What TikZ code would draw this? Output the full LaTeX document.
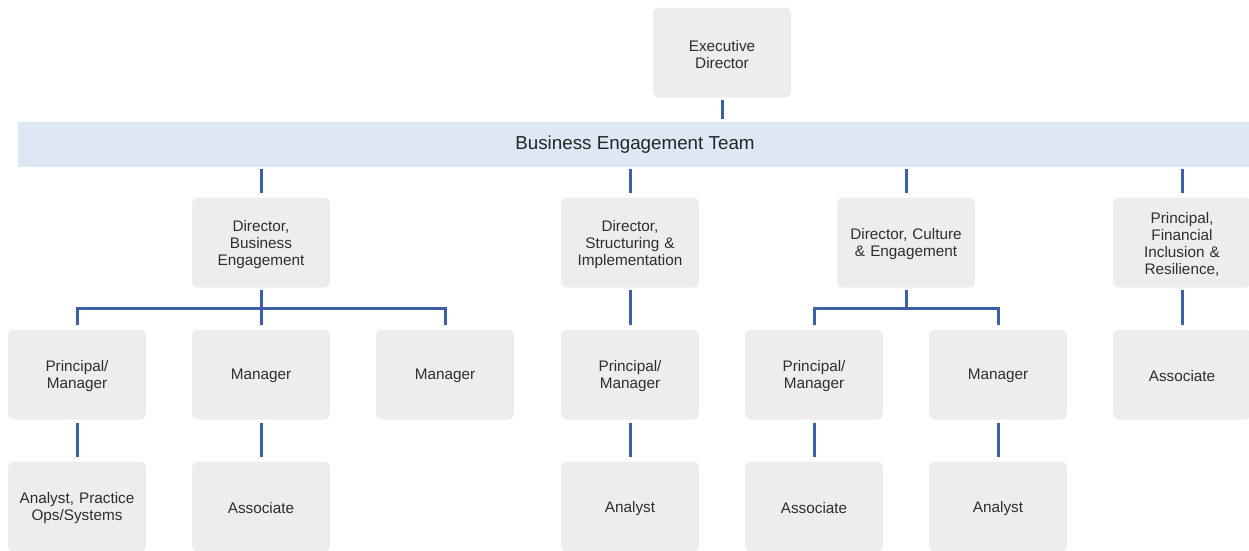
\documentclass[tikz,border=0pt]{standalone}
\usepackage{fontspec}
\setmainfont{Liberation Sans}
\begin{document}
\begin{tikzpicture}[x=1pt,y=-1pt,
  box/.style={fill=boxgray,rounded corners=6pt,minimum width=138pt,minimum height=90pt,inner sep=0pt},
  txt/.style={inner sep=0pt,align=center,text width=134pt,font=\fontsize{15.3}{17.2}\selectfont,text=black!82},
  conn/.style={draw=linkblue,line width=3pt}]
\definecolor{boxgray}{HTML}{EDEDED}
\definecolor{linkblue}{HTML}{3E5FA8}
\definecolor{bandblue}{HTML}{DDE8F4}
\newcommand\orgbox[3]{\node[box] (#1) at (#2) {};
  \node[txt] (#1t) at ([yshift=-1.8pt]#1.center) {#3};}
\useasboundingbox (0,0) rectangle (1249,550);
\clip (0,0) rectangle (1249,550);
% band
\node[fill=bandblue,minimum width=1240pt,minimum height=45pt,inner sep=0pt,anchor=west] (band) at (18,144) {};
\node[font=\fontsize{18.8}{22}\selectfont,text=black!85] (bandtxt) at (635,145) {Business Engagement Team};
% top
\orgbox{exec}{722,52.5}{Executive\\Director}
% level 2
\orgbox{dbe}{261,242.5}{Director,\\Business\\Engagement}
\orgbox{dsi}{630,242.5}{Director,\\Structuring \&\\Implementation}
\orgbox{dce}{906,242.5}{Director, Culture\\\& Engagement}
\orgbox{pfi}{1182,242.5}{Principal,\\Financial\\Inclusion \&\\Resilience,}
% level 3
\orgbox{pm1}{77,374.5}{Principal/\\Manager}
\orgbox{m1}{261,374.5}{Manager}
\orgbox{m2}{445,374.5}{Manager}
\orgbox{pm2}{630,374.5}{Principal/\\Manager}
\orgbox{pm3}{814,374.5}{Principal/\\Manager}
\orgbox{m3}{998,374.5}{Manager}
\orgbox{as1}{1182,374.5}{Associate}
% level 4
\orgbox{an1}{77,506.5}{Analyst, Practice\\Ops/Systems}
\orgbox{as2}{261,506.5}{Associate}
\orgbox{an2}{630,506.5}{Analyst}
\orgbox{as3}{814,506.5}{Associate}
\orgbox{an3}{998,506.5}{Analyst}
% coordinates
\coordinate (bus1) at (261,308);
\coordinate (bus2) at (906,308);
% connectors
\draw[conn] ([yshift=-2pt]exec.south) -- ([yshift=2pt]exec.south |- band.north);
\foreach \n in {dbe,dsi,dce,pfi}
  \draw[conn] ([yshift=-2pt]\n.north |- band.south) -- ([yshift=4pt]\n.north);
\draw[conn] ([yshift=-2pt]dbe.south) -- (bus1);
\draw[conn] ([yshift=4pt]pm1.north) -- (pm1.north |- bus1) -- (m2.north |- bus1) -- ([yshift=4pt]m2.north);
\draw[conn] (bus1) -- ([yshift=4pt]m1.north);
\draw[conn] ([yshift=-2pt]dce.south) -- (bus2);
\draw[conn] ([yshift=4pt]pm3.north) -- (pm3.north |- bus2) -- (m3.north |- bus2) -- ([yshift=4pt]m3.north);
\draw[conn] ([yshift=-2pt]dsi.south) -- ([yshift=4pt]pm2.north);
\draw[conn] ([yshift=-2pt]pfi.south) -- ([yshift=4pt]as1.north);
\draw[conn] ([yshift=-3pt]pm1.south) -- ([yshift=4pt]an1.north);
\draw[conn] ([yshift=-3pt]m1.south) -- ([yshift=4pt]as2.north);
\draw[conn] ([yshift=-3pt]pm2.south) -- ([yshift=4pt]an2.north);
\draw[conn] ([yshift=-3pt]pm3.south) -- ([yshift=4pt]as3.north);
\draw[conn] ([yshift=-3pt]m3.south) -- ([yshift=4pt]an3.north);
\end{tikzpicture}
\end{document}
